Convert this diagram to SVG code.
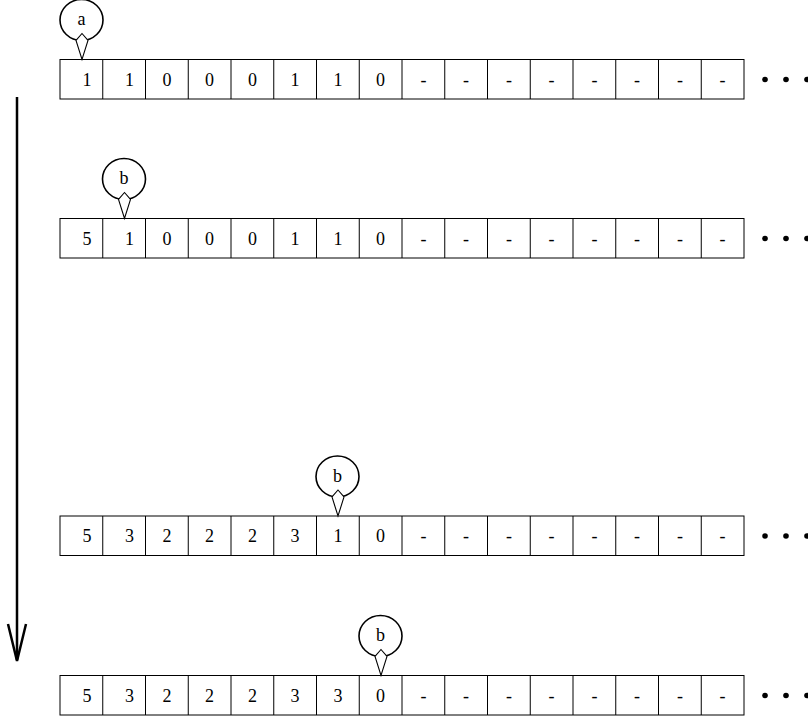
<svg xmlns="http://www.w3.org/2000/svg" width="808" height="717" viewBox="0 0 808 717">
<style>
.cell{fill:#fff;stroke:#000;stroke-width:1}
.t{font-family:"Liberation Serif","DejaVu Serif",serif;font-size:18px;text-anchor:middle;fill:#000}
.bub{fill:#fff;stroke:#000;stroke-width:1.6}
.dia{fill:#fff;stroke:#000;stroke-width:1.1;stroke-linejoin:miter}
.dot{fill:#000}
.arr{fill:none;stroke:#000;stroke-width:2.5}
</style>
<defs>
<g id="cells">
<rect class="cell" x="60" y="0" width="684" height="39.5"/>
<path d="M102.75 0v39.5M145.5 0v39.5M188.25 0v39.5M231 0v39.5M273.75 0v39.5M316.5 0v39.5M359.25 0v39.5M402 0v39.5M444.75 0v39.5M487.5 0v39.5M530.25 0v39.5M573 0v39.5M615.75 0v39.5M658.5 0v39.5M701.25 0v39.5" stroke="#000" stroke-width="1"/>
<text class="t" x="423.4" y="26">-</text><text class="t" x="466.1" y="26">-</text><text class="t" x="508.9" y="26">-</text><text class="t" x="551.6" y="26">-</text><text class="t" x="594.4" y="26">-</text><text class="t" x="637.1" y="26">-</text><text class="t" x="679.9" y="26">-</text><text class="t" x="722.6" y="26">-</text>
<circle class="dot" cx="765" cy="20" r="2.8"/><circle class="dot" cx="786" cy="20" r="2.8"/><circle class="dot" cx="807" cy="20" r="2.8"/>
</g>
<g id="bubble">
<ellipse class="bub" cx="-0.5" cy="-39.5" rx="21.5" ry="20.5"/>
<polygon class="dia" points="0,-26 6,-19 0,0 -6,-19"/>
</g>
</defs>

<g id="connectors">
<line class="arr" x1="17" y1="97" x2="17" y2="660"/>
<polyline class="arr" points="8,624 17,661 26,624"/>
</g>

<g id="row1" transform="translate(0,59.5)">
<use href="#cells"/>
<text class="t" x="87" y="26">1</text><text class="t" x="129.5" y="26">1</text><text class="t" x="167" y="26">0</text><text class="t" x="209.6" y="26">0</text><text class="t" x="252.4" y="26">0</text><text class="t" x="295.1" y="26">1</text><text class="t" x="337.9" y="26">1</text><text class="t" x="380.6" y="26">0</text>
</g>
<g id="row2" transform="translate(0,218.5)">
<use href="#cells"/>
<text class="t" x="87" y="26">5</text><text class="t" x="129.5" y="26">1</text><text class="t" x="167" y="26">0</text><text class="t" x="209.6" y="26">0</text><text class="t" x="252.4" y="26">0</text><text class="t" x="295.1" y="26">1</text><text class="t" x="337.9" y="26">1</text><text class="t" x="380.6" y="26">0</text>
</g>
<g id="row3" transform="translate(0,516)">
<use href="#cells"/>
<text class="t" x="87" y="26">5</text><text class="t" x="129.5" y="26">3</text><text class="t" x="167" y="26">2</text><text class="t" x="209.6" y="26">2</text><text class="t" x="252.4" y="26">2</text><text class="t" x="295.1" y="26">3</text><text class="t" x="337.9" y="26">1</text><text class="t" x="380.6" y="26">0</text>
</g>
<g id="row4" transform="translate(0,675.5)">
<use href="#cells"/>
<text class="t" x="87" y="26">5</text><text class="t" x="129.5" y="26">3</text><text class="t" x="167" y="26">2</text><text class="t" x="209.6" y="26">2</text><text class="t" x="252.4" y="26">2</text><text class="t" x="295.1" y="26">3</text><text class="t" x="337.9" y="26">3</text><text class="t" x="380.6" y="26">0</text>
</g>

<g id="ptr-a" transform="translate(82,59.5)">
<use href="#bubble"/>
<text class="t" x="-0.5" y="-34.5">a</text>
</g>
<g id="ptr-b1" transform="translate(124.5,218.5)">
<use href="#bubble"/>
<text class="t" x="-0.5" y="-34.5">b</text>
</g>
<g id="ptr-b2" transform="translate(338,516)">
<use href="#bubble"/>
<text class="t" x="-0.5" y="-34.5">b</text>
</g>
<g id="ptr-b3" transform="translate(381,675.5)">
<use href="#bubble"/>
<text class="t" x="-0.5" y="-34.5">b</text>
</g>
</svg>
